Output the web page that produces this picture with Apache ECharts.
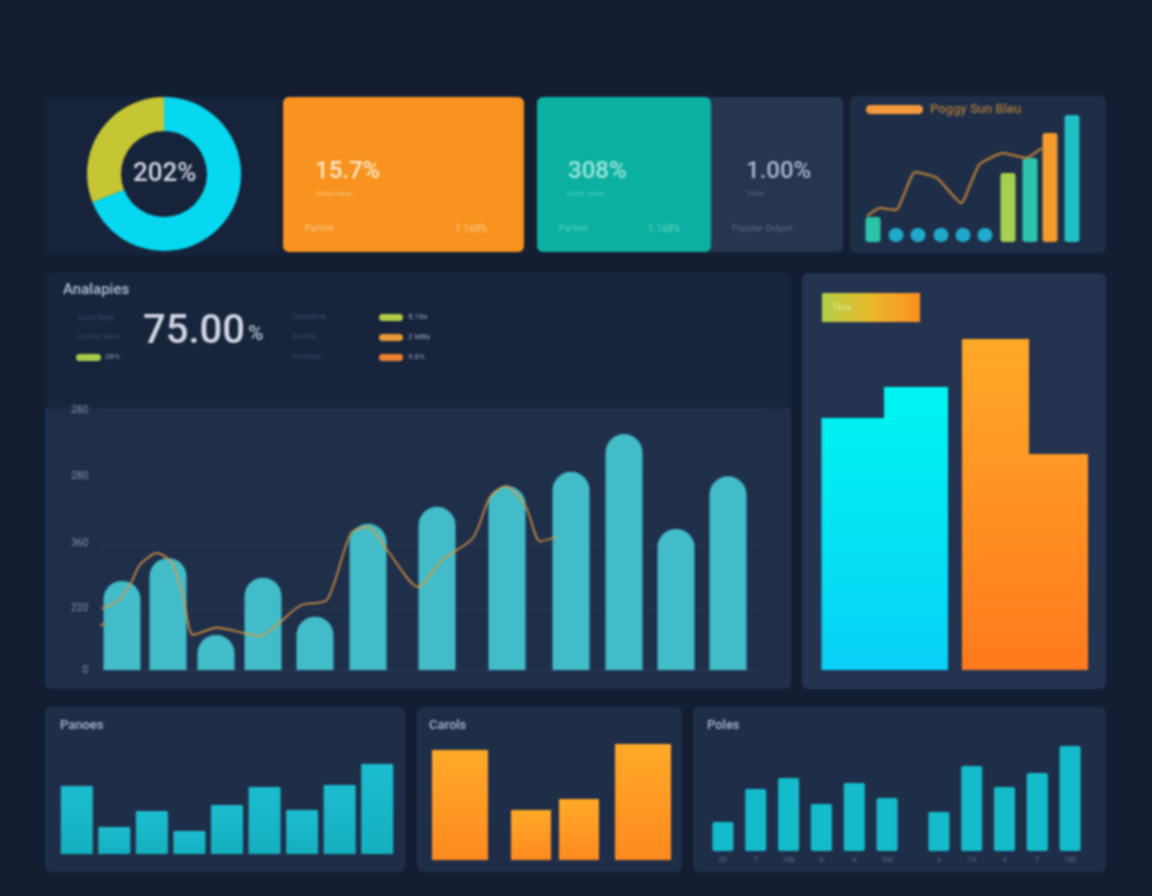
<!DOCTYPE html>
<html>
<head>
<meta charset="utf-8">
<title>Dashboard</title>
<script src="https://cdn.jsdelivr.net/npm/echarts@6/dist/echarts.min.js"></script>
<style>
  html, body { margin: 0; padding: 0; background: #131e33; }
  #chart { width: 1152px; height: 896px; filter: blur(0.9px); }
</style>
</head>
<body>
<div id="chart"></div>
<script>
// donut
const donutNames = ['Main', 'Other'];
const donutValues = [69, 31];

// main chart: bars sit at uneven spots, so x is a value axis
const mainTicks = [0, 94, 194, 297, 400];
const mainTickLabels = ['0', '220', '360', '280', '280'];
const mainBarX = [22, 68, 116, 163, 215, 268, 337, 407, 471, 524, 576, 628];
const mainBarValues = [137, 172, 54, 142, 82, 225, 251, 283, 305, 363, 217, 298];
const mainLineX = [2, 19, 31, 40, 57, 72, 84, 93, 117, 141, 160, 179, 201, 227, 251, 268, 287, 318, 342, 373, 390, 406, 426, 440, 457];
const mainLineValues = [94, 108, 134, 162, 180, 165, 108, 54, 65, 58, 52, 72, 100, 108, 211, 220, 185, 128, 169, 203, 266, 283, 251, 198, 205];
const mainStubX = [0, 6];
const mainStubValues = [69, 71];

// small chart top right
const trendBarX = [11, 34, 56, 79, 101, 123, 146, 168, 188, 210];
const trendBarValues = [25, 14, 14, 14, 14, 14, 69, 84, 109, 127];
const trendBarColors = ['#2bc4a8', '#1fa9cc', '#1fa9cc', '#1fa9cc', '#1fa9cc', '#1fa9cc', '#a4d04e', '#2cc4ac', '#f59a2d', '#1fbfc4'];
const trendLineX = [5, 18, 34, 53, 75, 99, 117, 141, 164, 180];
const trendLineValues = [26, 34, 32, 70, 64, 39, 77, 89, 84, 94];

// big stepped bars on the right
const stepCyanX = [38.5, 101];
const stepCyanValues = [252, 283];
const stepOrangeLeftX = [180.5];
const stepOrangeLeftValues = [331];
const stepOrangeRightX = [243.5];
const stepOrangeRightValues = [216];

// bottom row
const panesValues = [68, 27, 43, 23, 49, 67, 44, 69, 90];
const panesCategories = ['1', '2', '3', '4', '5', '6', '7', '8', '9'];
const carolsWideX = [30, 213];
const carolsWideValues = [110, 116];
const carolsNarrowX = [101, 149];
const carolsNarrowValues = [50, 61];
const polesLeftLabels = ['00', '7', '100', '0', '0', '100'];
const polesLeftValues = [29, 62, 73, 47, 68, 53];
const polesRightLabels = ['3', '14', '4', '7', '100'];
const polesRightValues = [39, 85, 64, 78, 105];

const FONT = 'Roboto, "Open Sans", sans-serif';

function panel(x, y, w, h, fill, r) {
  return { type: 'rect', z: -10, shape: { x, y, width: w, height: h, r: r === undefined ? 6 : r }, style: { fill } };
}
function label(text, x, y, size, fill, weight) {
  return {
    type: 'text', z: 20, x, y,
    style: { text, fill, fontSize: size, fontFamily: FONT, fontWeight: weight || 'normal', verticalAlign: 'middle' }
  };
}
function pill(x, y, w, h, fill) {
  return { type: 'rect', z: 20, shape: { x, y, width: w, height: h, r: h / 2 }, style: { fill } };
}

const graphics = [
  // cards
  panel(45, 97, 235, 158, '#16233a'),
  panel(283, 97, 241, 155, '#f7931e'),
  panel(537, 97, 306, 155, '#263650'),
  panel(537, 97, 174, 155, '#0bb0a0'),
  panel(850, 96, 256, 157, '#1f2e48'),
  panel(45, 273, 746, 416, '#17243c'),
  panel(45, 408, 746, 281, '#1f2f4a', [0, 0, 6, 6]),
  panel(802, 273, 304, 416, '#233350'),
  panel(45, 707, 360, 165, '#1f2e48'),
  panel(417, 707, 265, 165, '#1f2e48'),
  panel(693, 707, 413, 165, '#1f2e48'),

  // top row texts
  label('15.7%', 315, 172, 24, '#fde9c9', 500),
  label('Total base', 315, 194, 8, '#fbc67e'),
  label('Partner', 305, 229, 9, '#fcc98a'),
  label('1.168%', 455, 229, 10, '#fcc98a'),
  label('308%', 568, 172, 24, '#9fe6dc', 500),
  label('Each value', 567, 194, 8, '#4fcfbe'),
  label('Partner', 559, 229, 9, '#60d2c4'),
  label('1.168%', 648, 229, 10, '#60d2c4'),
  label('1.00%', 746, 172, 24, '#a9b6cc', 500),
  label('Total', 746, 194, 8, '#55657f'),
  label('Popular Output', 732, 229, 9, '#5d6d88'),
  pill(866, 105, 57, 9, '#f59a3c'),
  label('Poggy Sun Bleu', 930, 110, 13, '#a9763a', 500),
  label('202%', 133, 174, 26, '#d0d6e0', 500),

  // main header
  label('Analapies', 63, 290, 15, '#b5c0d2', 500),
  label('75.00', 143, 333, 40, '#d0d7e3', 500),
  label('%', 248, 335, 21, '#b8c2d2', 500),
  label('Fund Rate', 78, 318, 8, '#3c4c68'),
  label('Center Rate', 78, 337, 8, '#3c4c68'),
  pill(76, 354, 25, 7, '#a9cc4b'),
  label('28%', 105, 357, 8, '#8fa0b5'),
  label('Cashflow', 293, 317, 8, '#3c4c68'),
  label('Profits', 293, 337, 8, '#3c4c68'),
  label('Profiled', 293, 357, 8, '#3c4c68'),
  pill(379, 314, 24, 7, '#b4cb48'),
  pill(379, 334, 24, 7, '#e99b38'),
  pill(379, 354, 24, 7, '#f0822f'),
  label('5.18x', 408, 317, 8, '#9aa8bd'),
  label('2 MBy', 408, 337, 8, '#9aa8bd'),
  label('9.0%', 408, 357, 8, '#9aa8bd'),

  // badge on the big bars
  {
    type: 'rect', z: 20, shape: { x: 822, y: 293, width: 98, height: 29 },
    style: { fill: new echarts.graphic.LinearGradient(0, 0, 1, 0, [
      { offset: 0, color: '#b3cf45' }, { offset: 0.5, color: '#e8b92c' }, { offset: 1, color: '#ff8f1f' }
    ]) }
  },
  label('Tsue', 832, 308, 9, '#e5eb9a'),

  // bottom titles
  label('Panoes', 60, 726, 13, '#a9b6cc', 500),
  label('Carols', 429, 726, 13, '#a9b6cc', 500),
  label('Poles', 707, 726, 13, '#a9b6cc', 500)
];

const grids = [
  { left: 100, top: 410, width: 665, height: 260 },  // main
  { left: 862, top: 112, width: 220, height: 130 },  // trend
  { left: 815, top: 330, width: 280, height: 340 },  // steps
  { left: 58, top: 754, width: 338, height: 100 },   // panes
  { left: 430, top: 740, width: 280, height: 120 },  // carols
  { left: 706.5, top: 741, width: 197, height: 110 }, // poles left
  { left: 922.5, top: 741, width: 164, height: 110 }  // poles right
];

function hiddenValueX(gridIndex, max) {
  return { type: 'value', gridIndex, min: 0, max, show: false };
}
function hiddenCategoryX(gridIndex, data) {
  return { type: 'category', gridIndex, data, show: false };
}
function hiddenY(gridIndex, max) {
  return { type: 'value', gridIndex, min: 0, max, show: false };
}
function zip(xs, ys) {
  return xs.map((x, i) => [x, ys[i]]);
}
function vGrad(top, bottom) {
  return new echarts.graphic.LinearGradient(0, 0, 0, 1, [
    { offset: 0, color: top }, { offset: 1, color: bottom }
  ]);
}
function globalGrad(y, y2, top, bottom) {
  return {
    type: 'linear', x: 0, y, x2: 0, y2, global: true,
    colorStops: [{ offset: 0, color: top }, { offset: 1, color: bottom }]
  };
}
const cyanGrad = globalGrad(387, 670, '#00f6f2', '#08d0f6');
const orangeGrad = globalGrad(339, 670, '#ffa928', '#ff7a1e');

const polesLabelStyle = { show: true, color: '#5d6f8a', fontSize: 7, fontFamily: FONT, margin: 6 };

const option = {
  backgroundColor: '#131e33',
  animation: false,
  graphic: { elements: graphics },
  grid: grids,
  xAxis: [
    hiddenValueX(0, 665),
    hiddenValueX(1, 220),
    hiddenValueX(2, 280),
    hiddenValueX(2, 280),
    hiddenValueX(2, 280),
    hiddenCategoryX(3, panesCategories),
    hiddenValueX(4, 280),
    hiddenValueX(4, 280),
    {
      type: 'category', gridIndex: 5, data: polesLeftLabels.map((t, i) => ({ value: t, id: i })),
      axisLine: { show: false }, axisTick: { show: false }, axisLabel: polesLabelStyle
    },
    {
      type: 'category', gridIndex: 6, data: polesRightLabels.map((t, i) => ({ value: t, id: i })),
      axisLine: { show: false }, axisTick: { show: false }, axisLabel: polesLabelStyle
    }
  ],
  yAxis: [
    {
      type: 'value', gridIndex: 0, min: 0, max: 400,
      axisLine: { show: false },
      axisTick: { show: false, customValues: mainTicks },
      splitLine: { lineStyle: { color: '#2a3b57', width: 1 } },
      axisLabel: {
        customValues: mainTicks,
        color: '#8593ab', fontSize: 10, fontFamily: FONT, margin: 12,
        formatter: (v) => mainTickLabels[mainTicks.indexOf(v)]
      }
    },
    hiddenY(1, 130),
    hiddenY(2, 340),
    hiddenY(3, 100),
    hiddenY(4, 120),
    hiddenY(5, 110),
    hiddenY(6, 110)
  ],
  series: [
    {
      type: 'pie', center: [164, 174], radius: [43, 77], startAngle: 90, silent: true,
      label: { show: false }, labelLine: { show: false },
      data: donutNames.map((name, i) => ({
        name, value: donutValues[i],
        itemStyle: { color: ['#05d8f0', '#c6c533'][i] }
      }))
    },
    // main
    {
      type: 'bar', xAxisIndex: 0, yAxisIndex: 0, barWidth: 37,
      data: zip(mainBarX, mainBarValues),
      itemStyle: { color: '#41bcc8', borderRadius: [18.5, 18.5, 0, 0] }
    },
    {
      type: 'line', xAxisIndex: 0, yAxisIndex: 0, smooth: 0.25, symbol: 'none', z: 5,
      data: zip(mainLineX, mainLineValues),
      lineStyle: { color: '#e6973a', width: 1.8, opacity: 0.85 }
    },
    {
      type: 'line', xAxisIndex: 0, yAxisIndex: 0, symbol: 'none', z: 5,
      data: zip(mainStubX, mainStubValues),
      lineStyle: { color: '#e6973a', width: 1.8, opacity: 0.85 }
    },
    // trend
    {
      type: 'bar', xAxisIndex: 1, yAxisIndex: 1, barWidth: 15, z: 3,
      data: trendBarX.map((x, i) => ({
        value: [x, trendBarValues[i]],
        itemStyle: { color: trendBarColors[i], borderRadius: trendBarValues[i] < 20 ? 7 : 3 }
      }))
    },
    {
      type: 'line', xAxisIndex: 1, yAxisIndex: 1, smooth: 0.15, symbol: 'none', z: 4,
      data: zip(trendLineX, trendLineValues),
      lineStyle: { color: '#a9773a', width: 2.6 }
    },
    // steps
    {
      type: 'bar', xAxisIndex: 2, yAxisIndex: 2, barWidth: 64,
      data: zip(stepCyanX, stepCyanValues),
      itemStyle: { color: cyanGrad }
    },
    {
      type: 'bar', xAxisIndex: 3, yAxisIndex: 2, barWidth: 67,
      data: zip(stepOrangeLeftX, stepOrangeLeftValues),
      itemStyle: { color: orangeGrad }
    },
    {
      type: 'bar', xAxisIndex: 4, yAxisIndex: 2, barWidth: 59,
      data: zip(stepOrangeRightX, stepOrangeRightValues),
      itemStyle: { color: orangeGrad }
    },
    // bottom row
    {
      type: 'bar', xAxisIndex: 5, yAxisIndex: 3, barWidth: 32,
      data: panesValues,
      itemStyle: { color: vGrad('#1cbcd0', '#15b0bf'), borderRadius: 1 }
    },
    {
      type: 'bar', xAxisIndex: 6, yAxisIndex: 4, barWidth: 56,
      data: zip(carolsWideX, carolsWideValues),
      itemStyle: { color: vGrad('#ffa928', '#ff8a20') }
    },
    {
      type: 'bar', xAxisIndex: 7, yAxisIndex: 4, barWidth: 40,
      data: zip(carolsNarrowX, carolsNarrowValues),
      itemStyle: { color: vGrad('#ffa928', '#ff8a20') }
    },
    {
      type: 'bar', xAxisIndex: 8, yAxisIndex: 5, barWidth: 21,
      data: polesLeftValues,
      itemStyle: { color: '#14bccb', borderRadius: 2 }
    },
    {
      type: 'bar', xAxisIndex: 9, yAxisIndex: 6, barWidth: 21,
      data: polesRightValues,
      itemStyle: { color: '#14bccb', borderRadius: 2 }
    }
  ]
};

const chart = echarts.init(document.getElementById('chart'));
chart.setOption(option);
</script>
</body>
</html>
